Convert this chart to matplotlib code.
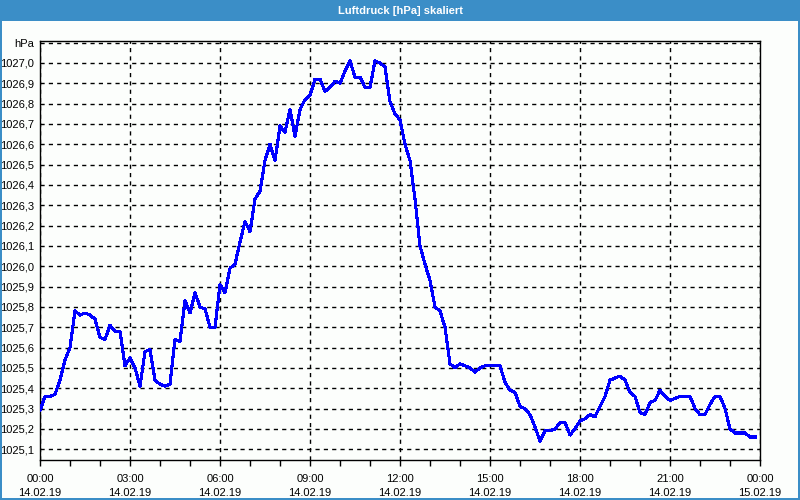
import matplotlib
matplotlib.use("Agg")
import matplotlib.pyplot as plt
from matplotlib.patches import Rectangle
from matplotlib.ticker import FixedLocator, MultipleLocator

title = "Luftdruck [hPa] skaliert"
unit = "hPa"

# minutes after 14.02.19 00:00, 10-minute samples
minutes = list(range(0, 1440, 10))
pressure = [
    1025.29, 1025.36, 1025.36, 1025.37, 1025.44, 1025.54, 1025.60, 1025.78, 1025.76, 1025.77,
    1025.76, 1025.74, 1025.65, 1025.64, 1025.71, 1025.68, 1025.68, 1025.51, 1025.55, 1025.50,
    1025.41, 1025.58, 1025.59, 1025.44, 1025.42, 1025.41, 1025.42, 1025.64, 1025.63, 1025.83,
    1025.77, 1025.87, 1025.80, 1025.79, 1025.70, 1025.70, 1025.91, 1025.87, 1025.99, 1026.01,
    1026.12, 1026.22, 1026.17, 1026.33, 1026.37, 1026.52, 1026.60, 1026.52, 1026.69, 1026.66,
    1026.77, 1026.64, 1026.77, 1026.82, 1026.84, 1026.92, 1026.92, 1026.86, 1026.88, 1026.91,
    1026.90, 1026.96, 1027.01, 1026.93, 1026.93, 1026.88, 1026.88, 1027.01, 1027.00, 1026.98,
    1026.81, 1026.75, 1026.72, 1026.60, 1026.52, 1026.33, 1026.10, 1026.01, 1025.93, 1025.80,
    1025.78, 1025.70, 1025.52, 1025.50, 1025.52, 1025.51, 1025.50, 1025.48, 1025.50, 1025.51,
    1025.51, 1025.51, 1025.51, 1025.43, 1025.39, 1025.38, 1025.31, 1025.30, 1025.27, 1025.21,
    1025.14, 1025.19, 1025.19, 1025.20, 1025.23, 1025.23, 1025.17, 1025.20, 1025.24, 1025.25,
    1025.27, 1025.26, 1025.31, 1025.36, 1025.44, 1025.45, 1025.46, 1025.44, 1025.38, 1025.36,
    1025.28, 1025.27, 1025.33, 1025.34, 1025.39, 1025.36, 1025.34, 1025.35, 1025.36, 1025.36,
    1025.36, 1025.30, 1025.27, 1025.27, 1025.32, 1025.36, 1025.36, 1025.30, 1025.20, 1025.18,
    1025.18, 1025.18, 1025.16, 1025.16,
]

x_tick_minutes = [0, 180, 360, 540, 720, 900, 1080, 1260, 1440]
x_tick_labels = ["00:00\n14.02.19", "03:00\n14.02.19", "06:00\n14.02.19", "09:00\n14.02.19",
                 "12:00\n14.02.19", "15:00\n14.02.19", "18:00\n14.02.19", "21:00\n14.02.19",
                 "00:00\n15.02.19"]
y_ticks = [1025.1, 1025.2, 1025.3, 1025.4, 1025.5, 1025.6, 1025.7, 1025.8, 1025.9, 1026.0,
           1026.1, 1026.2, 1026.3, 1026.4, 1026.5, 1026.6, 1026.7, 1026.8, 1026.9, 1027.0]

bg = "#fcfefc"
blue_bar = "#3b8ec7"

plt.rcParams['font.family'] = ['Liberation Sans', 'DejaVu Sans']
fig = plt.figure(figsize=(8, 5), dpi=100, facecolor=bg)

# title bar and window border
fig.patches.append(Rectangle((0, 1 - 21 / 500), 1, 21 / 500, transform=fig.transFigure,
                             facecolor=blue_bar, edgecolor="none", zorder=0))
fig.patches.append(Rectangle((0, 0), 2 / 800, 1, transform=fig.transFigure,
                             facecolor=blue_bar, edgecolor="none", zorder=0))
fig.patches.append(Rectangle((1 - 2 / 800, 0), 2 / 800, 1, transform=fig.transFigure,
                             facecolor=blue_bar, edgecolor="none", zorder=0))
fig.patches.append(Rectangle((0, 0), 1, 2 / 500, transform=fig.transFigure,
                             facecolor=blue_bar, edgecolor="none", zorder=0))
fig.text(0.5, 1 - 10.5 / 500, title, color="white", fontsize=8, fontweight="bold",
         ha="center", va="center")

ax = fig.add_axes([40 / 800, 40 / 500, 720 / 800, 419 / 500])
ax.set_facecolor(bg)
ax.plot(minutes, pressure, color="#0000ff", lw=1.5, antialiased=False, zorder=3)

ax.set_xlim(0, 1440)
ax.set_ylim(1025.047, 1027.108)

ax.xaxis.set_major_locator(FixedLocator(x_tick_minutes))
ax.set_xticks(x_tick_minutes)
ax.set_xticklabels(x_tick_labels, fontsize=8, linespacing=1.55)
ax.xaxis.set_minor_locator(MultipleLocator(60))
ax.tick_params(axis="x", which="both", direction="out", length=4, width=1, color="black", pad=6)

yt = y_ticks + [1027.1]
ax.set_yticks(yt)
ax.set_yticklabels([f"{v:.1f}".replace(".", ",") for v in y_ticks] + [unit], fontsize=8)
ax.tick_params(axis="y", which="both", length=0, pad=4)

ax.grid(True, which="major", color="black", linestyle=(0, (3, 3)), linewidth=1)
for s in ax.spines.values():
    s.set_color("black")
    s.set_linewidth(1.0)

fig.savefig("out.png", dpi=100, facecolor=bg)
